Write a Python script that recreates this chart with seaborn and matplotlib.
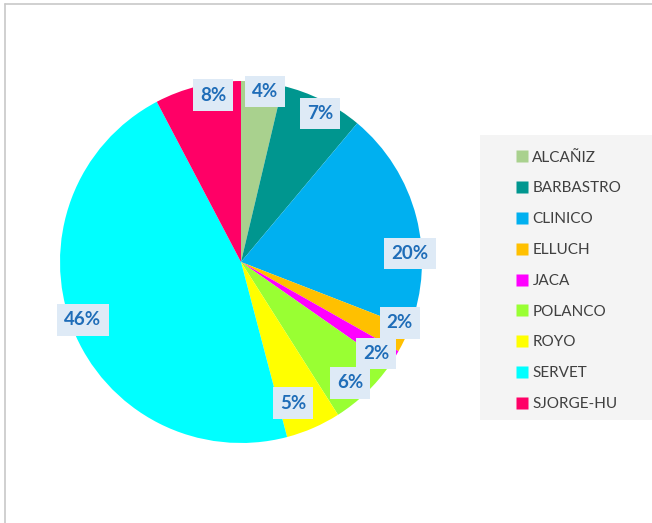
import numpy as np
import matplotlib
matplotlib.use("Agg")
import matplotlib.pyplot as plt
from matplotlib.patches import Rectangle
from matplotlib.lines import Line2D
import seaborn as sns

# data (percent share per hospital)
hospitals = ["ALCAÑIZ", "BARBASTRO", "CLINICO", "ELLUCH", "JACA",
             "POLANCO", "ROYO", "SERVET", "SJORGE-HU"]
shares = [3.7, 7.4, 19.8, 2.3, 1.5, 6.3, 4.9, 46.4, 7.7]
colors = ["#A9D18E", "#00968F", "#00B0F0", "#FFC000", "#FF00FF",
          "#99FF33", "#FFFF00", "#00FFFF", "#FF0066"]

sns.set_theme(style="white")
plt.rcParams["font.family"] = ["Lato", "DejaVu Sans"]

W, H = 652, 523
fig = plt.figure(figsize=(W / 100, H / 100), dpi=100)

# pie axes: centre (241, 262) px, radius ~181 px
cx, cy, r = 241, 262, 181
ax = fig.add_axes([(cx - r) / W, (H - cy - r) / H, 2 * r / W, 2 * r / H])

wedges, _, autotexts = ax.pie(
    shares, colors=sns.color_palette(colors), startangle=90, counterclock=False,
    autopct=lambda p: f"{p:.0f}%", pctdistance=0.93,
    wedgeprops=dict(linewidth=0),
    textprops=dict(color="#1F6DB8", fontsize=13.5, fontweight="bold"),
)
ax.set_aspect("equal")
ax.set_xlim(-1, 1)
ax.set_ylim(-1, 1)

# label placement like Excel's: angle shift (deg, clockwise) from slice middle, radius
label_shift = [1.3, 1.4, 11.4, -4.4, 1.8, 1.7, 3.4, 1.1, 4.4]
label_rad = [0.95, 0.93, 0.935, 0.94, 0.90, 0.90, 0.83, 0.93, 0.935]
total = sum(shares)
cum = 0
for t, v, da, rr in zip(autotexts, shares, label_shift, label_rad):
    mid = 90 - 360 * (cum + v / 2) / total
    cum += v
    a = np.deg2rad(mid - da)
    t.set_position((rr * np.cos(a), rr * np.sin(a)))
    t.set_bbox(dict(boxstyle="square,pad=0.38", facecolor="#DEEAF6", edgecolor="none"))

# legend panel
fig.add_artist(Rectangle((480 / W, 1 - 420 / H), (W - 480) / W, 285 / H,
                         transform=fig.transFigure, facecolor="#F4F4F4",
                         edgecolor="none", zorder=0))
handles = [Line2D([], [], marker="s", linestyle="none", markersize=8,
                  markerfacecolor=c, markeredgecolor="none") for c in colors]
fig.legend(handles, hospitals, loc="upper left",
           bbox_to_anchor=(508 / W, 1 - 143 / H), frameon=False,
           fontsize=11, labelcolor="#404040", labelspacing=1.1,
           handlelength=0.8, handletextpad=0.3, borderpad=0)

# chart area border (left and top edges visible)
fig.add_artist(Line2D([5 / W, 5 / W], [0, 1 - 4 / H], transform=fig.transFigure,
                      color="#C8C8C8", linewidth=1.2))
fig.add_artist(Line2D([5 / W, 1], [1 - 4 / H, 1 - 4 / H], transform=fig.transFigure,
                      color="#C8C8C8", linewidth=1.2))

fig.savefig("out.png", dpi=100, facecolor="white")
